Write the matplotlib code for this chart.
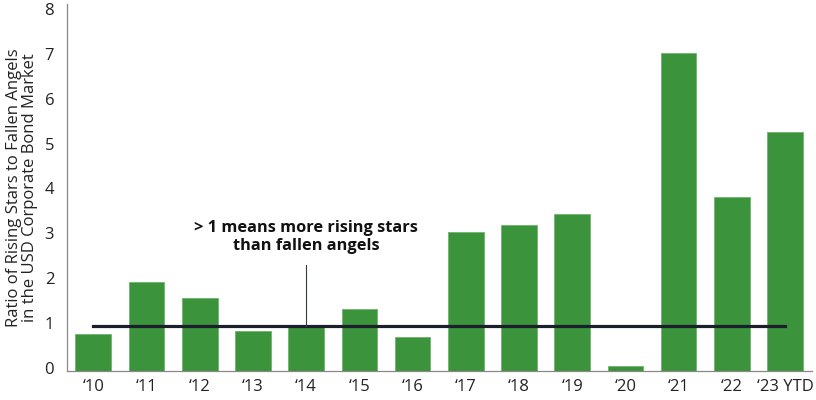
import numpy as np
import matplotlib.pyplot as plt
import matplotlib.transforms as mtransforms

plt.rcParams['font.family'] = ['Open Sans', 'DejaVu Sans']

# Ratio of rising stars to fallen angels, by year
years = ['\u201810', '\u201811', '\u201812', '\u201813', '\u201814', '\u201815', '\u201816',
         '\u201817', '\u201818', '\u201819', '\u201820', '\u201821', '\u201822', '\u201823 YTD']
ratio = [0.82, 1.98, 1.62, 0.90, 0.99, 1.39, 0.75, 3.10, 3.27, 3.51, 0.11, 7.11, 3.89, 5.35]
threshold = 1.0

fig = plt.figure(figsize=(8.16, 4.0), dpi=100)
ax = fig.add_axes([0.0817, 0.0725, 0.913, 0.9175])

x = np.arange(len(years))
ax.bar(x, ratio, width=0.67, color='#3b933b', edgecolor='#6fb46f', linewidth=0.6, zorder=2)

# reference line at 1
ax.plot([x[0], x[-1]], [threshold, threshold], color='#1b1f2b', lw=2.3, zorder=3)

# annotation with a thin pointer line
ax.plot([4, 4], [threshold, 2.37], color='#333a45', lw=0.8, zorder=3)
ax.text(4, 2.99, '> 1 means more rising stars\nthan fallen angels', ha='center', va='center',
        fontsize=11.8, fontweight='bold', linespacing=1.15, color='#111111')

ax.set_xlim(-0.5, len(years) - 0.5)
ax.set_ylim(0, 8.2)
ax.set_xticks(x)
ax.set_xticklabels(years, fontsize=12, color='#222222')
ax.set_yticks(range(0, 9))
ax.tick_params(axis='both', length=0, labelsize=12, colors='#222222')
ax.tick_params(axis='y', pad=9)
ax.tick_params(axis='x', pad=6)

# y tick labels sit a little above their values in the original
shift = mtransforms.ScaledTranslation(0, 3.5 / 100, fig.dpi_scale_trans)
for lbl in ax.get_yticklabels():
    lbl.set_transform(lbl.get_transform() + shift)

ax.set_ylabel('Ratio of Rising Stars to Fallen Angels\nin the USD Corporate Bond Market',
              fontsize=12, color='#222222', linespacing=0.95, labelpad=5)

for side in ['top', 'right']:
    ax.spines[side].set_visible(False)
for side in ['left', 'bottom']:
    ax.spines[side].set_color('#888888')
    ax.spines[side].set_linewidth(0.9)

fig.savefig('out.png', dpi=100)
